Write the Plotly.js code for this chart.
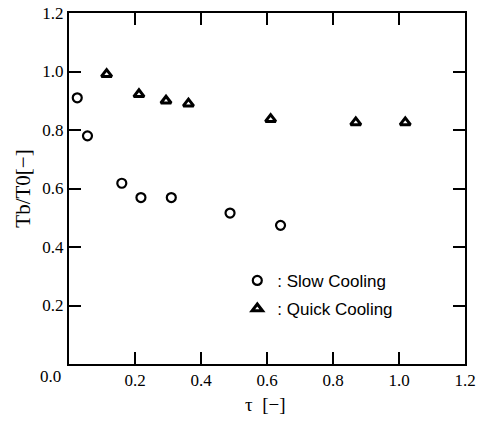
<!DOCTYPE html>
<html>
<head>
<meta charset="utf-8">
<script src="https://cdn.plot.ly/plotly-3.0.1.min.js"></script>
<style>html,body{margin:0;padding:0;background:#fff;}#chart{width:479px;height:421px;}</style>
</head>
<body>
<div id="chart"></div>
<script>
// Slow cooling (open circles)
var slowTau = [0.025, 0.056, 0.160, 0.218, 0.310, 0.488, 0.641];
var slowT   = [0.910, 0.780, 0.618, 0.569, 0.569, 0.516, 0.474];
// Quick cooling (open triangles)
var quickTau = [0.114, 0.212, 0.294, 0.362, 0.611, 0.869, 1.019];
var quickT   = [0.991, 0.922, 0.900, 0.890, 0.837, 0.826, 0.826];
var tickVals = [0.2, 0.4, 0.6, 0.8, 1.0, 1.2];
var tickText = ["0.2", "0.4", "0.6", "0.8", "1.0", "1.2"];
var seriesNames = [": Slow Cooling", ": Quick Cooling"];

var serif = "Liberation Serif, Times New Roman, serif";
var sans = "Liberation Sans, Arial, sans-serif";

var traces = [
  {x: slowTau, y: slowT, mode: "markers", type: "scatter", name: seriesNames[0], legendgroup: "a",
   marker: {symbol: "circle-open", size: 9, color: "#000", line: {width: 2.2, color: "#000"}}},
  {x: quickTau, y: quickT, mode: "markers", type: "scatter", name: seriesNames[1], legendgroup: "b",
   marker: {symbol: "triangle-up-open", size: 9, color: "#000", line: {width: 3, color: "#000"}}}
];

var axisCommon = {
  range: [0, 1.2], tickvals: tickVals, ticktext: tickText,
  ticks: "inside", ticklen: 12, tickwidth: 2, tickcolor: "#000",
  showline: true, linecolor: "#000", linewidth: 2, mirror: "ticks",
  showgrid: false, zeroline: false,
  tickfont: {family: serif, size: 17, color: "#000"}
};

var layout = {
  width: 479, height: 421,
  margin: {l: 69, r: 14, t: 13, b: 57},
  paper_bgcolor: "#fff", plot_bgcolor: "#fff",
  xaxis: Object.assign({}, axisCommon, {}),
  yaxis: Object.assign({}, axisCommon, {
    title: {text: "Tb/T0[−]", font: {family: serif, size: 21, color: "#000"}, standoff: 6}
  }),
  showlegend: true,
  legend: {x: 0.425, y: 0.288, xanchor: "left", yanchor: "top", bgcolor: "rgba(0,0,0,0)",
           borderwidth: 0, tracegroupgap: 3,
           font: {family: sans, size: 17, color: "#000"}},
  annotations: [
    {x: 0, y: 0, xref: "x", yref: "y", text: "0.0", showarrow: false, xanchor: "center", yanchor: "middle",
     xshift: -19, yshift: -12, font: {family: serif, size: 17, color: "#000"}},
    {x: 0.595, y: 0, xref: "x", yref: "paper", text: "τ  [−]", showarrow: false, xanchor: "center", yanchor: "middle",
     yshift: -40, font: {family: serif, size: 19, color: "#000"}}
  ]
};

Plotly.newPlot("chart", traces, layout, {displayModeBar: false, staticPlot: true});
</script>
</body>
</html>
